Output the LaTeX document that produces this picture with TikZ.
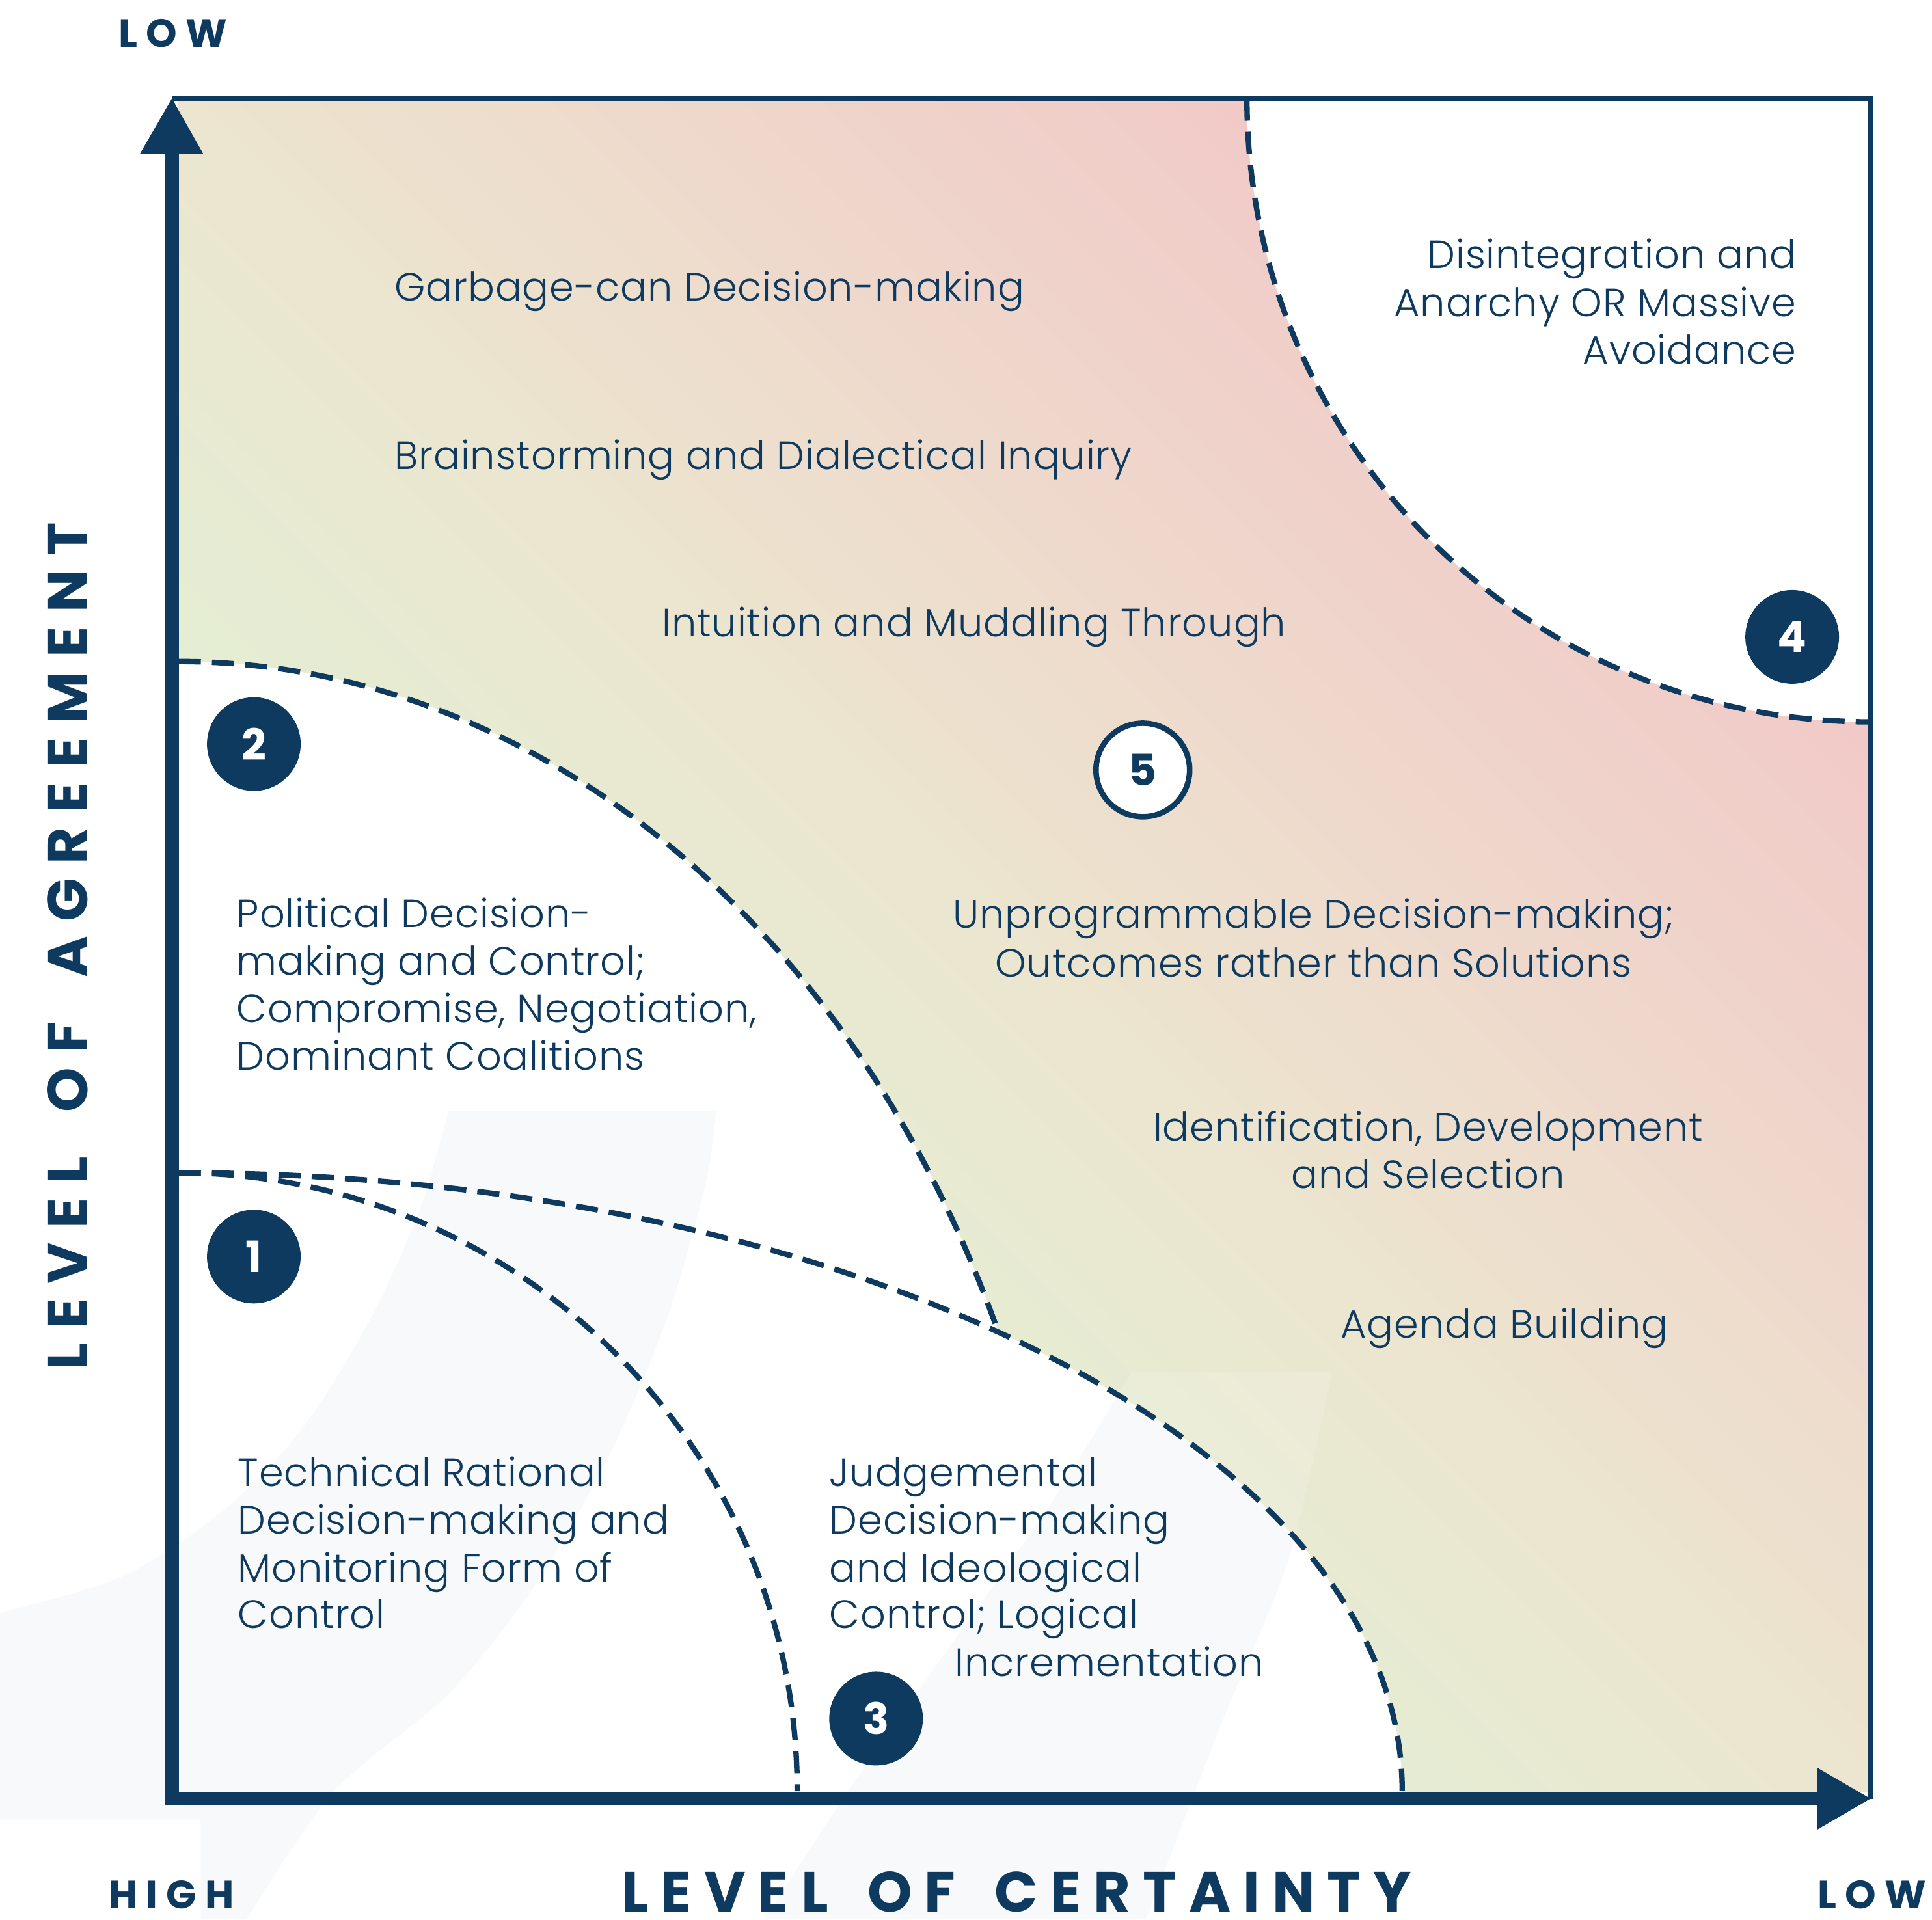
\documentclass[tikz,border=0pt]{standalone}
\usepackage{fontspec}
\setmainfont{Poppins}[UprightFont={* Light}, BoldFont={* Bold}, LetterSpace=1.5]
\newfontfamily\labfont{Poppins}[LetterSpace=22]
\newfontfamily\ylabfont{Poppins}[LetterSpace=25]
\newfontfamily\numfont{Poppins}
\definecolor{navy}{HTML}{0E3A5F}
\definecolor{gG}{HTML}{E4EED4}
\definecolor{gB}{HTML}{ECE5CF}
\definecolor{gP}{HTML}{F1CAC8}
\definecolor{wm}{HTML}{F8F9FA}
\pgfdeclareverticalshading{diagshade}{100bp}{color(0bp)=(gG); color(38bp)=(gG); color(50bp)=(gB); color(72bp)=(gP); color(100bp)=(gP)}
\newcommand{\wmA}{(364,656) -- (581,656) -- plot[smooth] coordinates {(581,656) (573,599) (542,490) (496,380) (434,271) (364,183) (271,104) (200,0)} -- (163,0) -- (163,81) -- (0,81) -- plot[smooth] coordinates {(0,249) (101,279) (186,336) (248,402) (302,490) (341,577) (364,656)} -- cycle}
\newcommand{\wmB}{(918,444) -- (1081,444) -- plot[smooth] coordinates {(1081,444) (1046,293) (992,161) (930,0)} -- plot[smooth] coordinates {(620,0) (697,117) (775,227) (852,336) (918,444)} -- cycle}
\begin{document}
\begin{tikzpicture}[x=1pt,y=1pt,
  body/.style={inner sep=0pt, text=navy, font=\fontsize{32}{38.5}\selectfont},
  numdark/.style={circle, fill=navy, minimum size=76pt, inner sep=0pt, text=white, font=\numfont\fontsize{35}{35}\selectfont\bfseries},
  numlight/.style={circle, fill=white, draw=navy, line width=4.5pt, minimum size=76pt, inner sep=0pt, text=navy, font=\numfont\fontsize{35}{35}\selectfont\bfseries},
  smalllab/.style={inner sep=0pt, text=navy, font={\labfont\bfseries\fontsize{32}{32}\selectfont}},
  biglab/.style={inner sep=0pt, text=navy, font={\labfont\bfseries\fontsize{46}{46}\selectfont}},
  ybiglab/.style={inner sep=0pt, text=navy, font={\ylabfont\bfseries\fontsize{46}{46}\selectfont}},
  boundary/.style={draw=navy, line width=4.4pt, dash pattern=on 18pt off 9pt},
  axisline/.style={draw=navy, line width=11pt},
  framel/.style={draw=navy, line width=3.5pt}
]
\useasboundingbox (0,0) rectangle (1568,1558);
\fill[white] (0,0) rectangle (1568,1558);
% faint background watermark
\fill[wm] \wmA;
\fill[wm] \wmB;
% gradient field
\shade[shading=diagshade, shading angle=-45] (145,104) rectangle (1518,1478);
\begin{scope}
  \clip (145,104) rectangle (1518,1478);
  \fill[white, opacity=0.15] \wmA;
  \fill[white, opacity=0.15] \wmB;
\end{scope}
% white regions
\begin{scope}
  \clip (145,104) rectangle (1518,1478);
  \fill[white] (145,104) ellipse [x radius=728, y radius=917];
  \fill[white] (145,104) ellipse [x radius=993, y radius=502];
  \fill[white] (1518,1478) circle [radius=506];
  \clip (145,104) ellipse [x radius=728, y radius=917] (145,104) ellipse [x radius=993, y radius=502] (1518,1478) circle [radius=506];
  \fill[wm] \wmA;
  \fill[wm] \wmB;
\end{scope}
% frame
\draw[framel] (139.5,1478) -- (1518,1478) -- (1518,98);
% dashed boundaries
\coordinate (cA) at (145,1021);
\coordinate (cCD) at (145,606);
\coordinate (cE) at (1012,1478);
\draw[boundary] (cA) arc [start angle=90, end angle=24, x radius=728, y radius=917];
\draw[boundary] (cCD) arc [start angle=90, end angle=0, x radius=993, y radius=502];
\draw[boundary] (cCD) arc [start angle=90, end angle=0, radius=502];
\draw[boundary] (cE) arc [start angle=180, end angle=270, radius=506];
% axes
\coordinate (org) at (139.5,98);
\coordinate (ytip) at (139.5,1478);
\coordinate (xtip) at (1518,98);
\draw[axisline] (139.5,92.5) -- (139.5,1436);
\draw[axisline] (134,98) -- (1478,98);
\fill[navy] (113.5,1433) -- (165,1433) -- (ytip) -- cycle;
\fill[navy] (1475,123) -- (1475,73) -- (xtip) -- cycle;
% numbered markers
\node[numdark] (n1) at (206,538) {1};
\node[numdark] (n2) at (206,954) {2};
\node[numdark] (n3) at (711,163) {3};
\node[numdark] (n4) at (1454.5,1041) {4};
\node[numlight] (n5) at (927.5,933) {5};
% region texts
\node[body, anchor=base west] (t1) at (320,1313.5) {Garbage-can Decision-making};
\node[body, anchor=base west] (t2) at (320,1177) {Brainstorming and Dialectical Inquiry};
\node[body, anchor=base] (t3) at (790.5,1041) {Intuition and Muddling Through};
\node[body, anchor=base east] (t4a) at (1458,1340) {Disintegration and};
\node[body, anchor=base east] (t4b) at (1458,1301) {Anarchy OR Massive};
\node[body, anchor=base east] (t4c) at (1458,1262.5) {Avoidance};
\node[body, anchor=base west] (p1) at (192,805) {Political Decision-};
\node[body, anchor=base west] (p2) at (192,766.5) {making and Control;};
\node[body, anchor=base west] (p3) at (192,728) {Compromise, Negotiation,};
\node[body, anchor=base west] (p4) at (192,689.5) {Dominant Coalitions};
\node[body, anchor=base] (u1) at (1066,804.4) {Unprogrammable Decision-making;};
\node[body, anchor=base] (u2) at (1066,765.1) {Outcomes rather than Solutions};
\node[body, anchor=base] (i1) at (1159,631.8) {Identification, Development};
\node[body, anchor=base] (i2) at (1159,593.4) {and Selection};
\node[body, anchor=base] (ag) at (1221,472.1) {Agenda Building};
\node[body, anchor=base west] (r1) at (193,351.6) {Technical Rational};
\node[body, anchor=base west] (r2) at (193,312.9) {Decision-making and};
\node[body, anchor=base west] (r3) at (193,274.1) {Monitoring Form of};
\node[body, anchor=base west] (r4) at (193,236.3) {Control};
\node[body, anchor=base west] (j1) at (673,351.6) {Judgemental};
\node[body, anchor=base west] (j2) at (673,312.9) {Decision-making};
\node[body, anchor=base west] (j3) at (673,274.1) {and Ideological};
\node[body, anchor=base west] (j4) at (673,236.3) {Control; Logical};
\node[body, anchor=base west] (j5) at (775,197.1) {Incrementation};
% axis labels
\node[smalllab, anchor=base west] (lowtop) at (96,1519.8) {LOW};
\node[smalllab, anchor=base west] (high) at (88,8.5) {HIGH};
\node[smalllab, anchor=base west] (lowright) at (1475,8.5) {LOW};
\node[biglab, anchor=base] (xlab) at (825,6) {LEVEL \hspace{12pt}OF \hspace{12pt}CERTAINTY};
\node[ybiglab, anchor=base, rotate=90] (ylab) at (70.8,790) {LEVEL \hspace{15pt}OF \hspace{15pt}AGREEMENT};
\end{tikzpicture}
\end{document}
